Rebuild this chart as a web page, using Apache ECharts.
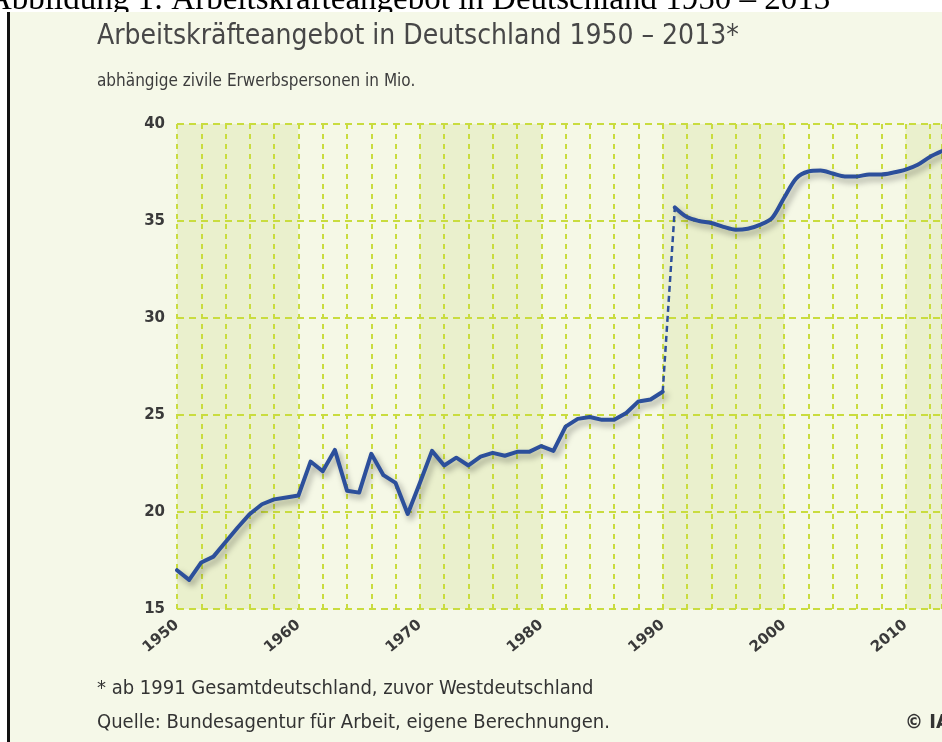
<!DOCTYPE html>
<html>
<head>
<meta charset="utf-8">
<script src="https://cdn.jsdelivr.net/npm/echarts@6/dist/echarts.min.js"></script>
<style>
  html, body { margin: 0; padding: 0; background: #fff; }
  #chart { width: 942px; height: 742px; }
</style>
</head>
<body>
<div id="chart"></div>
<script>
// Westdeutschland 1950-1990, Gesamtdeutschland 1991-2013 (Mio.)
var westStart = 1950;
var westValues = [
    17.0, 16.5, 17.4, 17.7, 18.45, 19.2, 19.9, 20.4, 20.65, 20.75,
    20.85, 22.6, 22.1, 23.2, 21.1, 21.0, 23.0, 21.9, 21.5, 19.9,
    21.5, 23.15, 22.4, 22.8, 22.4, 22.85, 23.05, 22.9, 23.1, 23.1,
    23.4, 23.15, 24.4, 24.8, 24.9, 24.75, 24.75, 25.1, 25.7, 25.8,
    26.2
];
var gesamtStart = 1991;
var gesamtValues = [
    35.7, 35.2, 35.0, 34.9, 34.7, 34.55, 34.6, 34.8, 35.15, 36.2,
    37.2, 37.55, 37.6, 37.45, 37.3, 37.3, 37.4, 37.4, 37.5, 37.65,
    37.9, 38.3, 38.6
];
var yTicks = [15, 20, 25, 30, 35, 40];

var westData = westValues.map(function (v, i) { return [westStart + i, v]; });
var gesamtData = gesamtValues.map(function (v, i) { return [gesamtStart + i, v]; });
var bridgeData = [westData[westData.length - 1], gesamtData[0]];

var gridColor = '#c9dc3f';
var lineColor = '#2c4f9b';
var textFont = '"Liberation Sans Narrow", "DejaVu Sans Condensed", sans-serif';
var numFont = '"DejaVu Sans", sans-serif';

var lineShadow = {
    color: lineColor,
    width: 4,
    cap: 'round',
    join: 'round',
    shadowColor: 'rgba(0,0,0,0.35)',
    shadowBlur: 6,
    shadowOffsetX: 3,
    shadowOffsetY: 4
};

var myChart = echarts.init(document.getElementById('chart'));
var option = {
    backgroundColor: '#f5f8e8',
    animation: false,
    grid: {
        left: 177,
        right: 0,
        top: 124,
        bottom: 133
    },
    xAxis: [
        {
            type: 'value',
            z: 1,
            min: 1950,
            max: 2013,
            interval: 2,
            axisLine: { show: false },
            axisTick: { show: false },
            splitLine: {
                show: true,
                lineStyle: { color: gridColor, width: 2, type: [5, 5] }
            },
            axisLabel: {
                rotate: 40,
                margin: 14,
                showMaxLabel: false,
                color: '#3a3a3a',
                fontFamily: numFont,
                fontWeight: 'bold',
                fontSize: 15,
                formatter: function (v) {
                    return v % 10 === 0 ? String(v) : '';
                }
            }
        },
        {
            // Hintergrundbänder je Jahrzehnt
            type: 'value',
            z: 0,
            min: 1950,
            max: 2013,
            interval: 10,
            position: 'bottom',
            axisLine: { show: false },
            axisTick: { show: false },
            axisLabel: { show: false },
            splitLine: { show: false },
            splitArea: {
                show: true,
                areaStyle: { color: ['#eaf0cd', '#f5f8e6'] }
            }
        }
    ],
    yAxis: {
        type: 'value',
        z: 1,
        min: yTicks[0],
        max: yTicks[yTicks.length - 1],
        interval: 5,
        axisLine: { show: false },
        axisTick: { show: false },
        splitLine: {
            show: true,
            lineStyle: { color: gridColor, width: 2, type: [7, 5] }
        },
        axisLabel: {
            margin: 12,
            color: '#3a3a3a',
            fontFamily: numFont,
            fontWeight: 'bold',
            fontSize: 15
        }
    },
    series: [
        {
            name: 'Westdeutschland',
            type: 'line',
            xAxisIndex: 0,
            data: westData,
            symbol: 'none',
            lineStyle: lineShadow
        },
        {
            name: 'Übergang',
            type: 'line',
            xAxisIndex: 0,
            data: bridgeData,
            symbol: 'none',
            lineStyle: {
                color: lineColor,
                width: 2.5,
                type: [6, 4]
            }
        },
        {
            name: 'Gesamtdeutschland',
            type: 'line',
            xAxisIndex: 0,
            data: gesamtData,
            symbol: 'none',
            smooth: 0.3,
            lineStyle: lineShadow
        }
    ],
    graphic: {
        elements: [
            // weisser Rand oben und links
            { type: 'rect', left: 0, top: 0, z: 1, shape: { width: 942, height: 12 }, style: { fill: '#ffffff' } },
            {
                type: 'text', left: -12, top: -16, z: 2,
                style: {
                    text: 'Abbildung 1: Arbeitskräfteangebot in Deutschland 1950 – 2013',
                    font: '33px "Liberation Serif", "Times New Roman", serif',
                    fill: '#000'
                }
            },
            { type: 'rect', left: 0, top: 12, z: 3, shape: { width: 942, height: 10 }, style: { fill: '#f5f8e8' } },
            { type: 'rect', left: 0, top: 12, z: 4, shape: { width: 7, height: 730 }, style: { fill: '#ffffff' } },
            { type: 'rect', left: 7, top: 12, z: 4, shape: { width: 3, height: 730 }, style: { fill: '#111111' } },
            {
                type: 'text', left: 97, top: 23, z: 5,
                style: {
                    text: 'Arbeitskräfteangebot in Deutschland 1950 – 2013*',
                    font: '28px ' + textFont,
                    fill: '#474747'
                }
            },
            {
                type: 'text', left: 97, top: 73, z: 5,
                style: {
                    text: 'abhängige zivile Erwerbspersonen in Mio.',
                    font: '17px ' + textFont,
                    fill: '#3d3d3d'
                }
            },
            {
                type: 'text', left: 97, top: 679, z: 5,
                style: {
                    text: '* ab 1991 Gesamtdeutschland, zuvor Westdeutschland',
                    font: '20px ' + textFont,
                    fill: '#333333'
                }
            },
            {
                type: 'text', left: 97, top: 713, z: 5,
                style: {
                    text: 'Quelle: Bundesagentur für Arbeit, eigene Berechnungen.',
                    font: '20px ' + textFont,
                    fill: '#333333'
                }
            },
            {
                type: 'text', left: 905, top: 713, z: 5,
                style: {
                    text: '© IAB',
                    font: 'bold 20px ' + textFont,
                    fill: '#333333'
                }
            }
        ]
    }
};
myChart.setOption(option);
</script>
</body>
</html>
